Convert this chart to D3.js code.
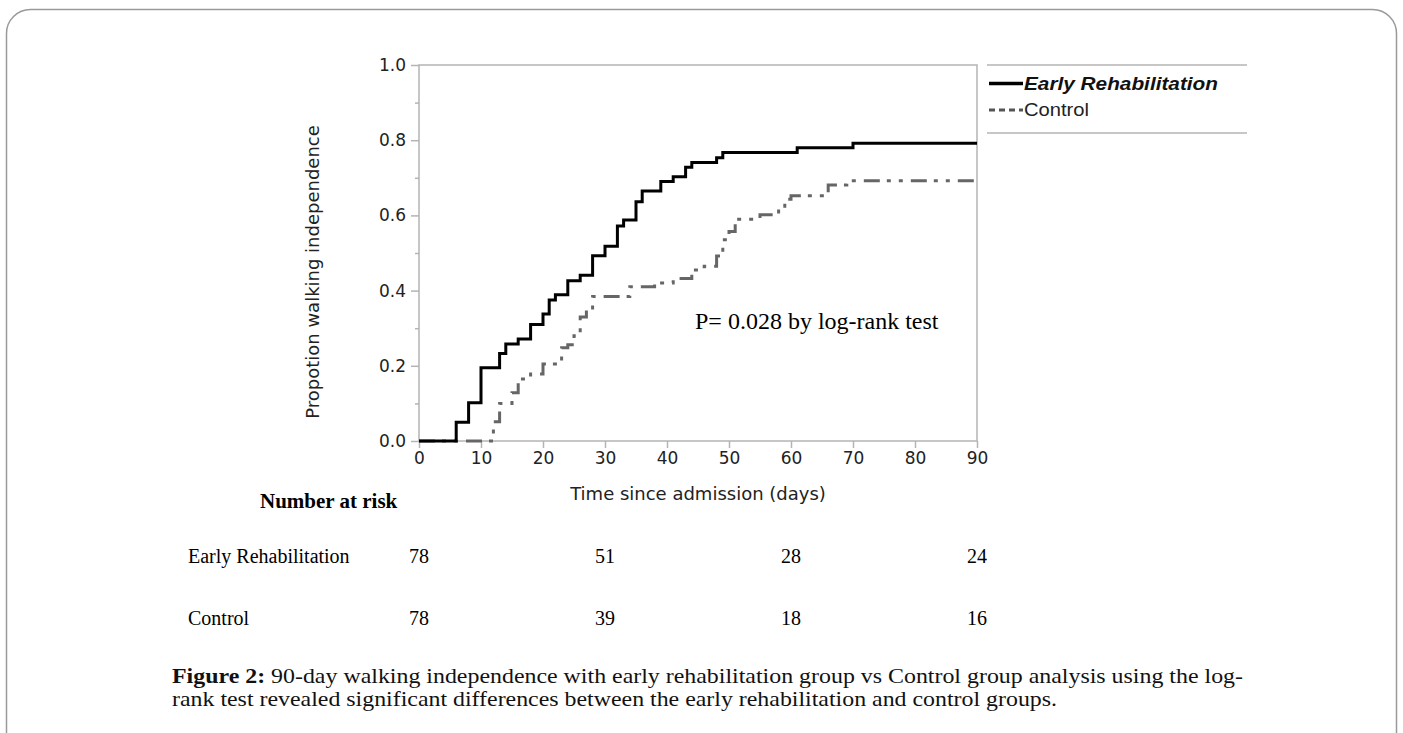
<!DOCTYPE html>
<html>
<head>
<meta charset="utf-8">
<script src="https://cdn.jsdelivr.net/npm/d3@7"></script>
<style>
  body { margin: 0; background: #fff; }
  svg { display: block; }
</style>
</head>
<body>
<div id="chart"></div>
<script>
// Kaplan-Meier steps (day, cumulative proportion)
var earlyDays = [0, 6, 8, 10, 13, 14, 16, 18, 20, 21, 22, 24, 26, 28, 30, 32, 33, 35, 36, 39, 41, 43, 44, 48, 49, 61, 70, 90];
var earlyProp = [0, 0.050, 0.102, 0.195, 0.233, 0.258, 0.271, 0.310, 0.338, 0.375, 0.389, 0.426, 0.441, 0.493, 0.518, 0.572, 0.588, 0.636, 0.665, 0.690, 0.703, 0.728, 0.741, 0.753, 0.767, 0.780, 0.792, 0.792];

var controlDays = [0, 12, 13, 15, 16, 18, 20, 23, 24, 25, 26, 27, 28, 34, 38, 41, 44, 46, 48, 49, 50, 51, 55, 58, 59, 60, 66, 69, 90];
var controlProp = [0, 0.051, 0.100, 0.128, 0.165, 0.178, 0.205, 0.248, 0.256, 0.280, 0.330, 0.348, 0.384, 0.410, 0.420, 0.432, 0.455, 0.465, 0.492, 0.535, 0.557, 0.590, 0.602, 0.620, 0.643, 0.652, 0.681, 0.692, 0.692];

var xTicks = [0, 10, 20, 30, 40, 50, 60, 70, 80, 90];
var yTicks = [0, 0.2, 0.4, 0.6, 0.8, 1.0];
var yMinorTicks = [0.1, 0.3, 0.5, 0.7, 0.9];

var riskDays = [0, 30, 60, 90];
var riskEarly = [78, 51, 28, 24];
var riskControl = [78, 39, 18, 16];

var seriesNames = ["Early Rehabilitation", "Control"];

var W = 1403, H = 733;
var svg = d3.select("#chart").append("svg")
  .attr("width", W)
  .attr("height", H);

// card border
svg.append("rect")
  .attr("x", 6.5).attr("y", 9.5)
  .attr("width", 1390).attr("height", 760)
  .attr("rx", 24).attr("ry", 24)
  .attr("fill", "none")
  .attr("stroke", "#9a9a9a")
  .attr("stroke-width", 1.5);

var x = d3.scaleLinear().domain([0, 90]).range([419, 977]);
var y = d3.scaleLinear().domain([0, 1]).range([441, 65]);

var axisColor = "#b4b4b4";
var labelFont = "'DejaVu Sans', Verdana, sans-serif";

// plot frame
svg.append("rect")
  .attr("x", x(0)).attr("y", y(1))
  .attr("width", x(90) - x(0)).attr("height", y(0) - y(1))
  .attr("fill", "none")
  .attr("stroke", axisColor)
  .attr("stroke-width", 1.5);

// y axis
var yAxis = d3.axisLeft(y).tickValues(yTicks).tickSize(8).tickPadding(5)
  .tickFormat(d3.format(".1f"));
var gy = svg.append("g").attr("transform", "translate(" + x(0) + ",0)").call(yAxis);
gy.select(".domain").remove();
gy.selectAll("line").attr("stroke", axisColor).attr("stroke-width", 1.5);
gy.selectAll("text").attr("font-family", labelFont).attr("font-size", 17).attr("fill", "#222");

var gym = svg.append("g").attr("transform", "translate(" + x(0) + ",0)")
  .call(d3.axisLeft(y).tickValues(yMinorTicks).tickSize(4).tickFormat(""));
gym.select(".domain").remove();
gym.selectAll("line").attr("stroke", axisColor).attr("stroke-width", 1.5);

// x axis
var xAxis = d3.axisBottom(x).tickValues(xTicks).tickSize(7).tickPadding(4);
var gx = svg.append("g").attr("transform", "translate(0," + y(0) + ")").call(xAxis);
gx.select(".domain").remove();
gx.selectAll("line").attr("stroke", axisColor).attr("stroke-width", 1.5);
gx.selectAll("text").attr("font-family", labelFont).attr("font-size", 17).attr("fill", "#222");

// axis titles
svg.append("text")
  .attr("x", (x(0) + x(90)) / 2)
  .attr("y", 500)
  .attr("text-anchor", "middle")
  .attr("font-family", labelFont)
  .attr("font-size", 18)
  .attr("fill", "#222")
  .text("Time since admission (days)");

svg.append("text")
  .attr("transform", "translate(319," + 272 + ") rotate(-90)")
  .attr("text-anchor", "middle")
  .attr("font-family", labelFont)
  .attr("font-size", 18)
  .attr("fill", "#222")
  .text("Propotion walking independence");

// curves
var line = d3.line()
  .x(function(d) { return x(d[0]); })
  .y(function(d) { return y(d[1]); })
  .curve(d3.curveStepAfter);

var controlData = controlDays.map(function(d, i) { return [d, controlProp[i]]; });
var earlyData = earlyDays.map(function(d, i) { return [d, earlyProp[i]]; });

svg.append("path")
  .datum(controlData)
  .attr("d", line)
  .attr("fill", "none")
  .attr("stroke", "#666")
  .attr("stroke-width", 3)
  .attr("stroke-dasharray", "16,7,4,8,4,8");

svg.append("path")
  .datum(earlyData)
  .attr("d", line)
  .attr("fill", "none")
  .attr("stroke", "#000")
  .attr("stroke-width", 3);

var serif = "'Liberation Serif', 'Times New Roman', serif";

// p-value note
svg.append("text")
  .attr("x", 695)
  .attr("y", 329)
  .attr("font-family", serif)
  .attr("font-size", 24)
  .attr("fill", "#000")
  .text("P= 0.028 by log-rank test");

// legend
svg.append("line").attr("x1", 987).attr("x2", 1247).attr("y1", 65).attr("y2", 65)
  .attr("stroke", axisColor).attr("stroke-width", 1.5);
svg.append("line").attr("x1", 987).attr("x2", 1247).attr("y1", 133).attr("y2", 133)
  .attr("stroke", axisColor).attr("stroke-width", 1.5);

svg.append("line").attr("x1", 989).attr("x2", 1023).attr("y1", 83.5).attr("y2", 83.5)
  .attr("stroke", "#000").attr("stroke-width", 3.5);
svg.append("text")
  .attr("x", 1024).attr("y", 90)
  .attr("font-family", "'Liberation Sans', Arial, sans-serif")
  .attr("font-size", 19)
  .attr("font-weight", "bold")
  .attr("font-style", "italic")
  .attr("fill", "#111")
  .attr("textLength", 194)
  .attr("lengthAdjust", "spacingAndGlyphs")
  .text(seriesNames[0]);

svg.append("line").attr("x1", 989).attr("x2", 1023).attr("y1", 110).attr("y2", 110)
  .attr("stroke", "#555").attr("stroke-width", 3)
  .attr("stroke-dasharray", "6,4");
svg.append("text")
  .attr("x", 1024).attr("y", 116)
  .attr("font-family", "'Liberation Sans', Arial, sans-serif")
  .attr("font-size", 19)
  .attr("fill", "#222")
  .attr("textLength", 65)
  .attr("lengthAdjust", "spacingAndGlyphs")
  .text(seriesNames[1]);

// number at risk table
svg.append("text")
  .attr("x", 260).attr("y", 508)
  .attr("font-family", serif)
  .attr("font-size", 21)
  .attr("font-weight", "bold")
  .text("Number at risk");

var rows = [
  {name: seriesNames[0], vals: riskEarly, yPos: 563},
  {name: seriesNames[1], vals: riskControl, yPos: 625}
];
rows.forEach(function(r) {
  svg.append("text")
    .attr("x", 188).attr("y", r.yPos)
    .attr("font-family", serif)
    .attr("font-size", 20)
    .text(r.name);
  svg.selectAll(null)
    .data(r.vals)
    .enter().append("text")
    .attr("x", function(d, i) { return x(riskDays[i]); })
    .attr("y", r.yPos)
    .attr("text-anchor", "middle")
    .attr("font-family", serif)
    .attr("font-size", 20)
    .text(function(d) { return d; });
});

// caption
var cap1 = svg.append("text")
  .attr("x", 172).attr("y", 683)
  .attr("font-family", serif)
  .attr("font-size", 22)
  .attr("fill", "#111")
  .attr("textLength", 1071)
  .attr("lengthAdjust", "spacingAndGlyphs");
cap1.append("tspan").attr("font-weight", "bold").text("Figure 2:");
cap1.append("tspan").text(" 90-day walking independence with early rehabilitation group vs Control group analysis using the log-");

svg.append("text")
  .attr("x", 172).attr("y", 706)
  .attr("font-family", serif)
  .attr("font-size", 22)
  .attr("fill", "#111")
  .attr("textLength", 885)
  .attr("lengthAdjust", "spacingAndGlyphs")
  .text("rank test revealed significant differences between the early rehabilitation and control groups.");
</script>
</body>
</html>
